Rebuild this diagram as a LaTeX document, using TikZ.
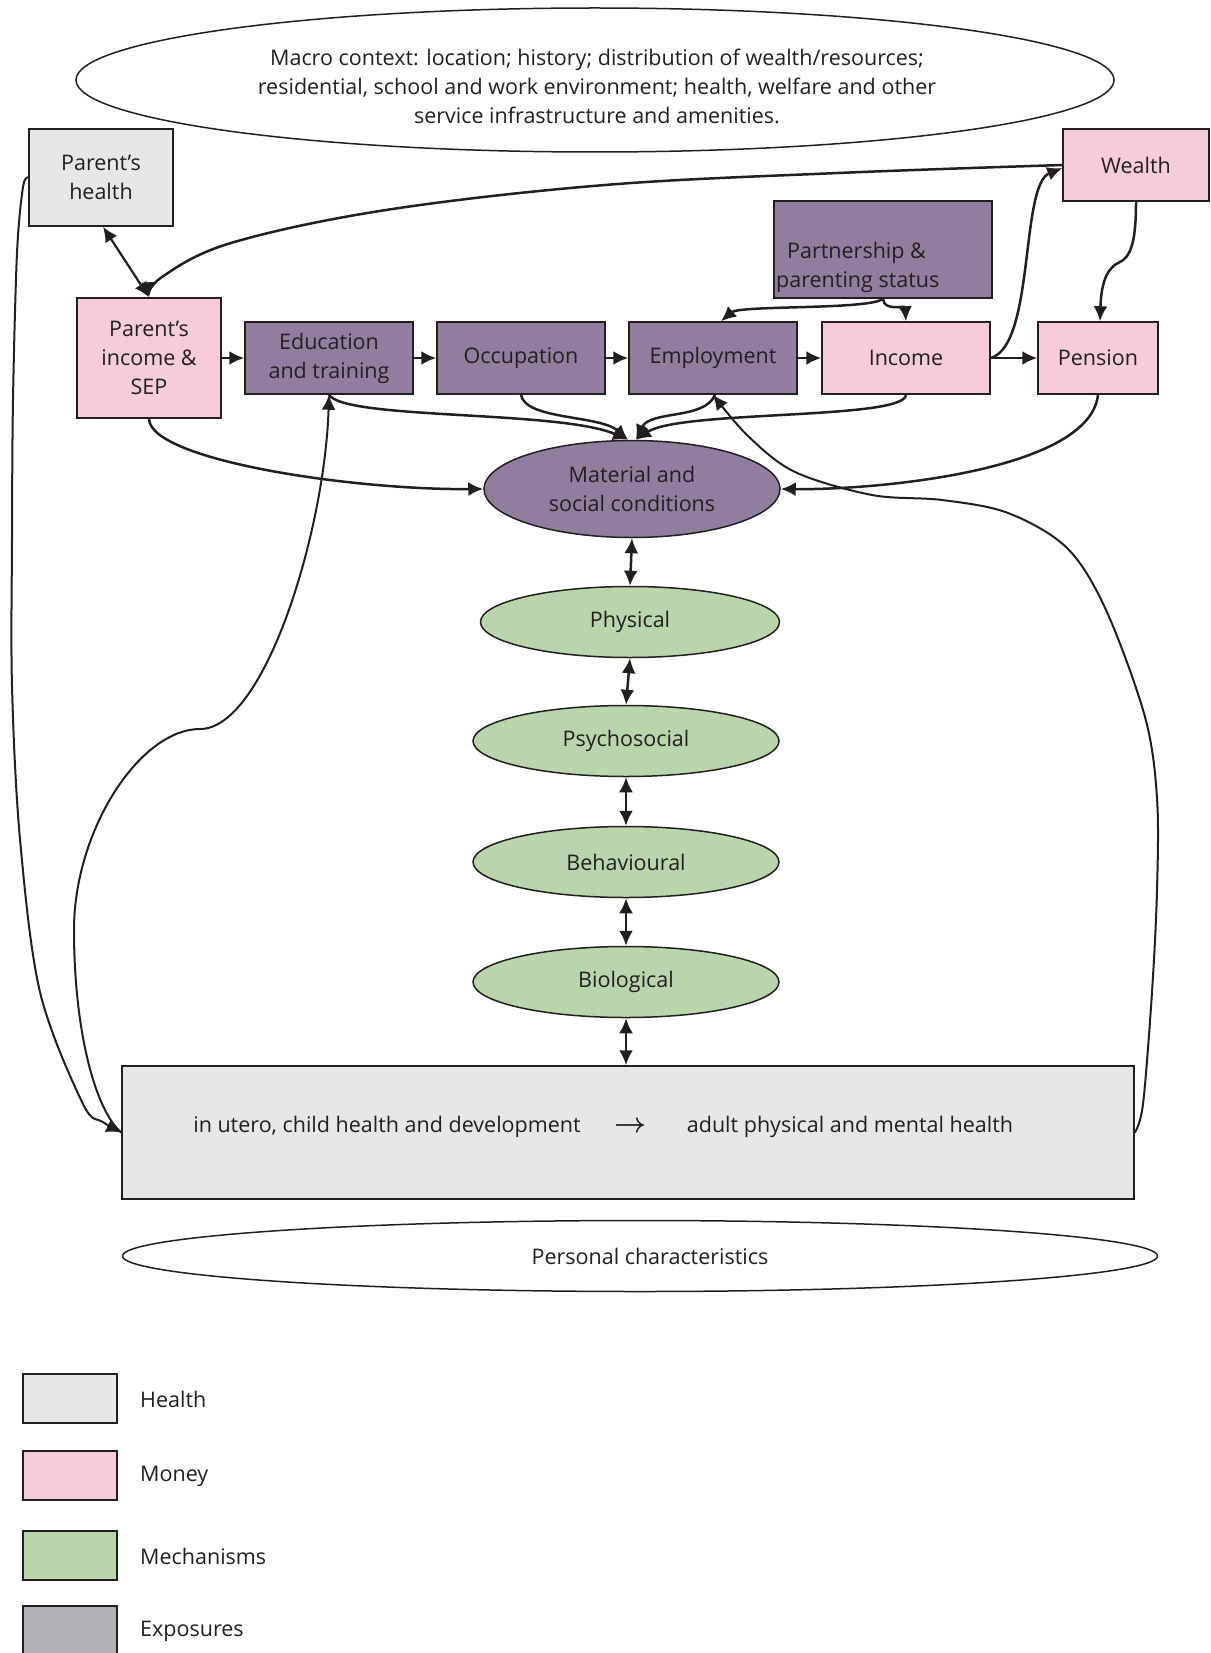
\documentclass[tikz,border=0pt]{standalone}
\usepackage{graphicx}
\usepackage{fontspec}
\setmainfont{Open Sans}
\usetikzlibrary{arrows.meta,shapes.geometric}
\definecolor{ink}{HTML}{231F20}
\definecolor{healthc}{HTML}{E6E7E9}
\definecolor{moneyc}{HTML}{F6CBDA}
\definecolor{mechc}{HTML}{B9D5AC}
\definecolor{expoc}{HTML}{917E9F}
\definecolor{legexpo}{HTML}{B0B1B5}
\begin{document}
\begin{tikzpicture}[x=1pt,y=-1pt,
  txt/.style={font=\fontsize{21.5}{29}\selectfont, text=ink, align=center, inner sep=0pt},
  box/.style={draw=ink, line width=1.5pt, rectangle, inner sep=0pt, txt},
  ell/.style={draw=ink, line width=1.5pt, ellipse, inner sep=0pt, txt},
  arr/.style={draw=ink, line width=2.5pt, -{Latex[length=15pt,width=14pt]}},
  darr/.style={draw=ink, line width=2.5pt, {Latex[length=15pt,width=14pt]}-{Latex[length=15pt,width=14pt]}},
  loopline/.style={draw=ink, line width=2pt, -{Latex[length=15pt,width=14pt]}}
]
\useasboundingbox (0,0) rectangle (1210,1653);

% macro context
\node[ell, minimum width=1038pt, minimum height=144pt] (macro) at (595,80) {};
\node[txt] (macrotext) at (597,86) {Macro context: location; history; distribution of wealth/resources;\\residential, school and work environment; health, welfare and other\\service infrastructure and amenities.};

% boxes
\node[box, fill=healthc, minimum width=144pt, minimum height=97pt] (phealth) at (101,177.5) {Parent’s\\health};
\node[box, fill=moneyc, minimum width=144pt, minimum height=120pt] (pincome) at (149,358) {Parent’s\\income \&\\SEP};
\node[box, fill=expoc, minimum width=168pt, minimum height=72pt] (edu) at (329,358) {Education\\and training};
\node[box, fill=expoc, minimum width=168pt, minimum height=72pt] (occ) at (521,358) {Occupation};
\node[box, fill=expoc, minimum width=168pt, minimum height=72pt] (emp) at (713,358) {Employment};
\node[box, fill=moneyc, minimum width=168pt, minimum height=72pt] (inc) at (906,358) {Income};
\node[box, fill=moneyc, minimum width=120pt, minimum height=72pt] (pen) at (1098,358) {Pension};
\node[box, fill=moneyc, minimum width=146pt, minimum height=72pt] (wealth) at (1136,165) {Wealth};
\node[box, fill=expoc, minimum width=218pt, minimum height=97pt] (partner) at (883,249.5) {};
\node[txt, anchor=west, align=left] (partnertext) at (776,267.5) {\hspace*{11pt}Partnership \&\\parenting status};

% mechanisms
\node[ell, fill=expoc, minimum width=296pt, minimum height=97pt] (mat) at (632,489) {Material and\\social conditions};
\node[ell, fill=mechc, minimum width=299pt, minimum height=71pt] (phys) at (630,622) {Physical};
\node[ell, fill=mechc, minimum width=306pt, minimum height=71pt] (psy) at (626,741) {Psychosocial};
\node[ell, fill=mechc, minimum width=306pt, minimum height=71pt] (beh) at (626,862) {Behavioural};
\node[ell, fill=mechc, minimum width=306pt, minimum height=71pt] (bio) at (626,982) {Biological};

% health box
\node[box, fill=healthc, minimum width=1012pt, minimum height=133pt] (health) at (628,1132.5) {};
\node[txt] (child) at (387,1127) {in utero, child health and development};
\node[txt] (harrow) at (631,1127) {\scalebox{1.35}{\boldmath$\rightarrow$}};
\node[txt] (adult) at (850,1127) {adult physical and mental health};

% personal characteristics
\node[ell, minimum width=1035pt, minimum height=71pt] (pers) at (640,1256) {};
\node[txt] (perstext) at (650,1256) {Personal characteristics};

% legend
\node[box, fill=healthc, minimum width=94pt, minimum height=49pt] (lg1) at (70,1398.5) {};
\node[txt, anchor=west] (lt1) at (140,1399) {Health};
\node[box, fill=moneyc, minimum width=94pt, minimum height=49pt] (lg2) at (70,1475.5) {};
\node[txt, anchor=west] (lt2) at (140,1476) {Money};
\node[box, fill=mechc, minimum width=94pt, minimum height=49pt] (lg3) at (70,1555.5) {};
\node[txt, anchor=west] (lt3) at (140,1556) {Mechanisms};
\node[box, fill=legexpo, minimum width=94pt, minimum height=50pt] (lg4) at (70,1631) {};
\node[txt, anchor=west] (lt4) at (140,1631) {Exposures};

% connectors: top
\draw[darr, line width=2.2pt] ([xshift=2pt]phealth.south) -- (pincome.north);
\draw[arr] plot[smooth,tension=0.6] coordinates {(wealth.west) (838,173) (605,185) (386,210) (231,243) (162,277) (pincome.north)};
\draw[arr] (inc.east) .. controls (1035,345) and (1020,185) .. ([yshift=-3pt]wealth.west);
\draw[arr] (wealth.south) .. controls (1136,245) and (1130,258) .. (1118,263) .. controls (1104,270) and (1101,290) .. ([xshift=2pt]pen.north);
\draw[arr] (partner.south) .. controls (870,310) and (740,305) .. ([xshift=8pt]emp.north);
\draw[arr] (partner.south) .. controls (884,312) and (905,305) .. (inc.north);

% chain
\draw[arr] (pincome.east) -- (edu.west);
\draw[arr] (edu.east) -- (occ.west);
\draw[arr] (occ.east) -- (emp.west);
\draw[arr] (emp.east) -- (inc.west);
\draw[arr] (inc.east) -- (pen.west);

% into material
\draw[arr] (pincome.south) .. controls (150,460) and (350,490) .. (mat.west);
\draw[arr] (edu.south) .. controls (345,420) and (560,410) .. ([xshift=-4pt]mat.north);
\draw[arr] (occ.south) .. controls (525,420) and (600,415) .. ([xshift=-4pt]mat.north);
\draw[arr] ([xshift=2pt]emp.south) .. controls (705,420) and (650,410) .. ([xshift=4pt]mat.north);
\draw[arr] (inc.south) .. controls (905,420) and (680,410) .. ([xshift=4pt]mat.north);
\draw[arr] (pen.south) .. controls (1090,470) and (880,490) .. (mat.east);

% mechanism chain
\draw[darr] (mat.south) -- (phys.north);
\draw[darr] (phys.south) -- (psy.north);
\draw[darr] (psy.south) -- (beh.north);
\draw[darr] (beh.south) -- (bio.north);
\draw[darr] (bio.south) -- ([xshift=-2pt]health.north);

% long loops
\draw[loopline] plot[smooth,tension=0.55] coordinates {(health.east) (1143,1104) (1152,992) (1157,890) (1157,798) (1145,717) (1106,610) (1067,548) (1008,513) (942,500) (872,495) (795,472) (748,436) (emp.south)};
\draw[loopline] plot[smooth,tension=0.55] coordinates {(phealth.west) (23,187) (17,253) (13,400) (12,540) (12,686) (20,839) (40,992) (83,1104) (103,1122) (health.west)};
\draw[loopline] (health.west) .. controls (95,1110) and (74,1030) .. (74,930) .. controls (74,830) and (140,729) .. (200,729) .. controls (265,729) and (325,530) .. (edu.south);
\end{tikzpicture}
\end{document}
